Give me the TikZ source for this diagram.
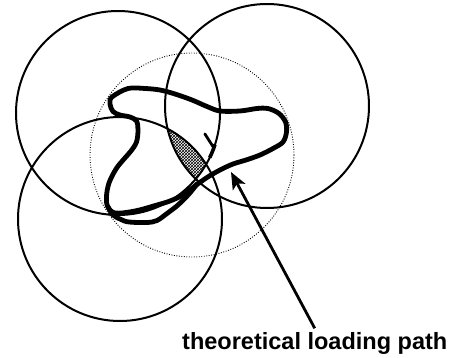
\documentclass[tikz,border=0pt]{standalone}
\usepackage{fontspec}
\setmainfont{Liberation Sans}
\usetikzlibrary{arrows.meta, patterns, calc}

\begin{document}
\begin{tikzpicture}[x=1pt, y=-1pt,
    ring/.style={line width=2pt},
    guide/.style={line width=0.9pt, dash pattern=on 0.9pt off 1.6pt},
    loadpath/.style={line width=4.8pt, line join=round, line cap=round},
    pointer/.style={line width=2.8pt, -{Stealth[length=17pt, width=14pt, inset=4pt]}}]

    % Page frame
    \useasboundingbox (0,0) rectangle (450,358);

    % Circle centres
    \coordinate (c1) at (118,113);
    \coordinate (c2) at (267,106);
    \coordinate (c3) at (120,219);
    \coordinate (c0) at (192,155);

    % Common region of the three circles
    \begin{scope}
        \clip (c1) circle[radius=102];
        \clip (c2) circle[radius=102];
        \fill[pattern=crosshatch] (c3) circle[radius=102];
    \end{scope}

    % Dotted circle
    \draw[guide] (c0) circle[radius=102];

    % Solid circles
    \foreach \c in {c1, c2, c3}{
        \draw[ring] (\c) circle[radius=102];
    }

    % Loading path
    \draw[loadpath] plot[smooth cycle, tension=0.55] coordinates {
        (112,97) (128,88.5) (145,88.5) (160,90) (175,94) (192,100)
        (207,106.5) (220,111) (240,111) (257,108.5) (268,108.5)
        (279,113.5) (285.5,122) (286.5,132) (283,142) (273,148.5)
        (260,155) (246,160) (233,164) (220,170) (207,177.5)
        (195,186) (183,195) (170,201) (157,205) (135,211)
        (115,213) (107.5,206) (106.5,196) (109,183) (116,169)
        (124,159) (131,151) (136.5,142) (138,130) (136.5,121)
        (130,117) (120,115) (113,111.5) (110,104)};
    \draw[loadpath] plot[smooth, tension=0.55] coordinates {
        (108,207) (113,215) (121,219.5) (129,222) (147,222.5)
        (157,220.5) (167,213.5) (178,205) (189,194) (197,184)};

    % Direction mark on the upper left circle
    \coordinate (turn) at ($(c1)+(20:102)$);
    \draw[line width=2.8pt, line cap=round] (turn) -- ++(-9,-14);
    \draw[line width=3.6pt] ($(c1)+(18:102)$) arc[start angle=18, end angle=26, radius=102];

    % Label and pointer
    \coordinate (aim) at (231,172);
    \node[anchor=base west, inner sep=0pt,
          font=\bfseries\fontsize{23.5}{28}\selectfont] (lbl) at (182,349.5)
        {theoretical loading path};
    \draw[pointer] ([yshift=4pt]lbl.north) -- (aim);

\end{tikzpicture}
\end{document}
